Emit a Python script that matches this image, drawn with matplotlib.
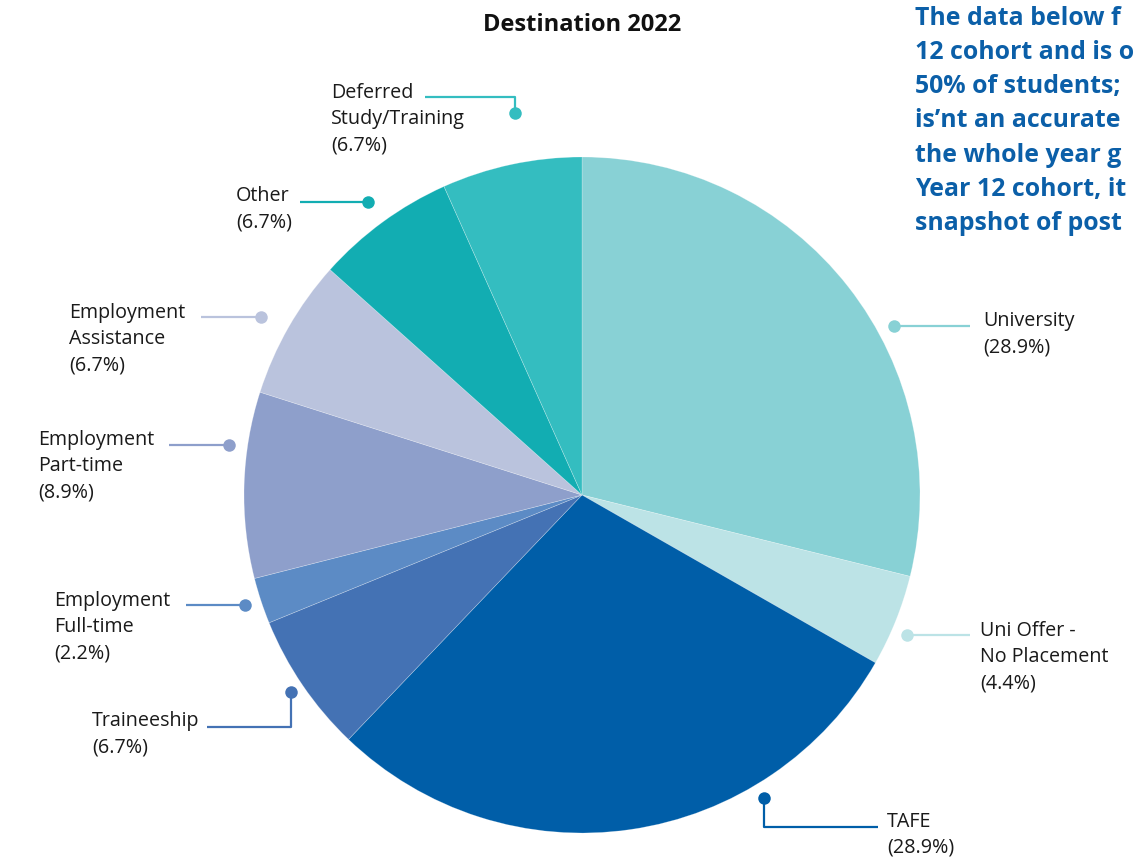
import matplotlib.pyplot as plt

# destination shares, clockwise from 12 o'clock
categories = ["University", "Uni Offer -\nNo Placement", "TAFE", "Traineeship",
              "Employment\nFull-time", "Employment\nPart-time",
              "Employment\nAssistance", "Other", "Deferred\nStudy/Training"]
shares = [28.9, 4.4, 28.9, 6.7, 2.2, 8.9, 6.7, 6.7, 6.7]
colors = ["#88D1D5", "#BCE3E6", "#005EA8", "#4472B4", "#5C8BC5",
          "#8E9FCB", "#BAC3DD", "#12ADB2", "#34BDC0"]

title = "Destination 2022"
note_lines = ["The data below f", "12 cohort and is o", "50% of students;",
              "is\u2019nt an accurate", "the whole year g", "Year 12 cohort, it",
              "snapshot of post"]

W, H = 1137, 857
plt.rcParams['font.family'] = ['Open Sans', 'DejaVu Sans']

fig = plt.figure(figsize=(W / 100, H / 100), dpi=100)
ax = fig.add_axes([0, 0, 1, 1])

def Y(py):
    return H - py

cx, cy, r = 582, 495, 338
ax.pie(shares, colors=colors, startangle=90, counterclock=False,
       center=(cx, Y(cy)), radius=r, frame=True,
       wedgeprops=dict(linewidth=0.5, edgecolor=(1, 1, 1, 0.3)))
ax.set_xlim(0, W)
ax.set_ylim(0, H)
ax.set_aspect('equal')
ax.axis('off')

# leader lines: dot position, path to text, text anchor (pixel coords)
leaders = [
    ((894, 326), [(894, 326), (970, 326)], (983, 321)),
    ((907, 635), [(907, 635), (970, 635)], (980, 631)),
    ((764, 798), [(764, 798), (764, 827), (878, 827)], (887, 822)),
    ((291, 692), [(291, 692), (291, 727), (183, 727)], (92, 721)),
    ((245, 605), [(245, 605), (186, 605)], (54, 601)),
    ((229, 445), [(229, 445), (169, 445)], (38, 440)),
    ((261, 317), [(261, 317), (201, 317)], (69, 313)),
    ((368, 202), [(368, 202), (300, 202)], (236, 196)),
    ((515, 113), [(515, 113), (515, 97), (425, 97)], (331, 93)),
]

renderer = fig.canvas.get_renderer()
for cat, val, col, (dot, path, tpos) in zip(categories, shares, colors, leaders):
    text_lines = cat.split("\n") + [f"({val}%)"]
    first = None
    for i, line in enumerate(text_lines):
        t = ax.text(tpos[0], Y(tpos[1] + 26 * i), line, fontsize=14.2,
                    color="#1a1a1a", ha='left', va='center')
        if first is None:
            first = t
    path = list(path)
    # keep left-side leaders clear of the label's first line
    if tpos[0] < path[-1][0] < tpos[0] + 200:
        right = first.get_window_extent(renderer).x1
        if path[-1][0] < right + 7:
            path[-1] = (right + 7, path[-1][1])
    xs = [p[0] for p in path]
    ys = [Y(p[1]) for p in path]
    ax.plot(xs, ys, color=col, lw=1.6, solid_capstyle='butt', zorder=3)
    ax.plot(dot[0], Y(dot[1]), 'o', color=col, ms=9, mec='none', zorder=4)

ax.text(582, Y(25), title, fontsize=17, fontweight='bold', color="#111111",
        ha='center', va='center')

for i, line in enumerate(note_lines):
    ax.text(915, Y(18 + 34.3 * i), line, fontsize=17.9, fontweight='bold',
            color="#0B5FA8", ha='left', va='center')

fig.savefig("out.png", dpi=100)
